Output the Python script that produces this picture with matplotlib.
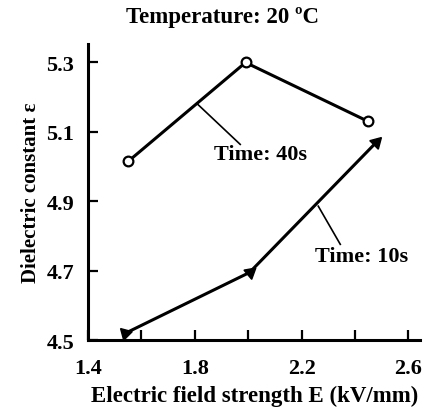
import matplotlib
matplotlib.use("Agg")
import matplotlib.pyplot as plt

plt.rcParams["font.family"] = "serif"
plt.rcParams["font.serif"] = ["Liberation Serif", "DejaVu Serif"]
plt.rcParams["font.weight"] = "bold"

# data
e_40s = [1.55, 1.99, 2.45]
eps_40s = [5.015, 5.30, 5.13]
e_10s = [1.54, 2.005, 2.48]
eps_10s = [4.52, 4.695, 5.07]

x_ticks = [1.4, 1.8, 2.2, 2.6]
x_minor = [1.6, 2.0, 2.4]
y_ticks = [4.5, 4.7, 4.9, 5.1, 5.3]

title = "Temperature: 20 \u00baC"
xlabel = "Electric field strength E (kV/mm)"
ylabel = "Dielectric constant \u03b5"

fig = plt.figure(figsize=(4.32, 4.10), dpi=100)
ax = fig.add_axes([0.204, 0.168, 0.769, 0.722])
ax.set_xlim(1.4, 2.645)
ax.set_ylim(4.5, 5.353)

ax.plot(e_40s, eps_40s, color="black", lw=2.2, marker="o", ms=7,
        mfc="white", mec="black", mew=1.6, zorder=3)
ax.plot(e_10s, eps_10s, color="black", lw=2.2, zorder=3)
# arrow-like triangle markers, rotated (degrees, 0 = pointing up)
arrow_rot = [165, 190, -45]
for x, y, r in zip(e_10s, eps_10s, arrow_rot):
    ax.plot(x, y, marker=(3, 0, r), ms=10, color="black", zorder=4, clip_on=False)

# leader lines and labels
ax.plot([1.81, 1.97], [5.18, 5.064], color="black", lw=1.2)
ax.text(2.045, 5.035, "Time: 40s", ha="center", va="center", fontsize=16, fontweight="bold")
ax.plot([2.2625, 2.345], [4.886, 4.776], color="black", lw=1.2)
ax.text(2.424, 4.742, "Time: 10s", ha="center", va="center", fontsize=16, fontweight="bold")

for s in ["top", "right"]:
    ax.spines[s].set_visible(False)
for s in ["left", "bottom"]:
    ax.spines[s].set_linewidth(2.2)

ax.set_xticks(x_ticks)
ax.set_xticks(x_minor, minor=True)
ax.set_yticks(y_ticks)
ax.set_xticklabels([f"{v:.1f}" for v in x_ticks])
ax.set_yticklabels([f"{v:.1f}" for v in y_ticks])
ax.tick_params(axis="both", which="both", direction="in", length=7, width=1.6,
               labelsize=16)
ax.tick_params(axis="x", which="major", pad=13)
ax.tick_params(axis="y", which="major", pad=10)

ax.set_xlabel(xlabel, fontsize=16.5, fontweight="bold", labelpad=5)
ax.set_ylabel(ylabel, fontsize=15, fontweight="bold", labelpad=4)
fig.text(0.514, 0.957, title, ha="center", va="center", fontsize=16.5, fontweight="bold")

fig.savefig("out.png", dpi=100)
